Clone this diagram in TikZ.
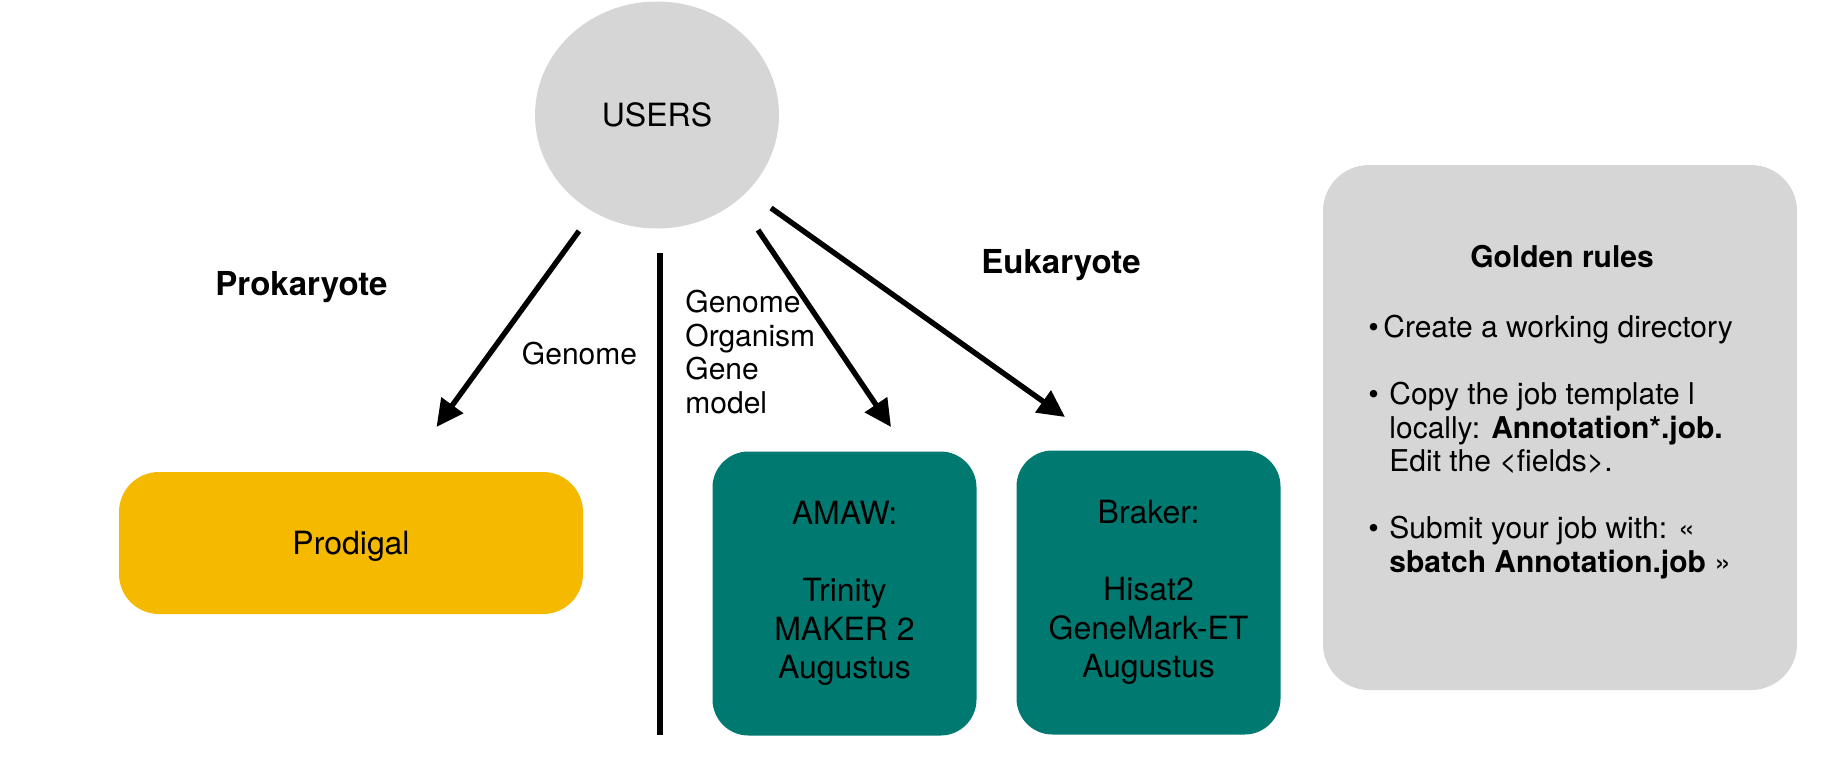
\documentclass[tikz,border=0pt]{standalone}
\usepackage{fontspec}
\setmainfont{TeX Gyre Heros}
\usepackage{tikz}
\usetikzlibrary{arrows.meta,shapes}
\usetikzlibrary{positioning}
\definecolor{usergray}{RGB}{214,214,214}
\definecolor{prokyellow}{RGB}{245,185,0}
\definecolor{eukteal}{RGB}{0,122,113}
\tikzset{
    usernode/.style={ellipse, fill=usergray, minimum width=122pt, minimum height=113.5pt,
        font=\fontsize{16}{19.25}\selectfont},
    prokbox/.style={rectangle, rounded corners=20pt, fill=prokyellow, text depth=0pt,
        minimum width=232pt, minimum height=71pt, font=\fontsize{16}{19.25}\selectfont},
    eukbox/.style={rectangle, rounded corners=18pt, fill=eukteal, align=center,
        minimum width=132pt, minimum height=142pt, font=\fontsize{16}{19.25}\selectfont},
    rulesbox/.style={rectangle, rounded corners=23pt, fill=usergray,
        minimum width=237pt, minimum height=262.5pt},
    kingdom/.style={inner sep=0pt, anchor=base, font=\fontsize{16.5}{19.8}\selectfont\bfseries},
    smalltext/.style={inner sep=0pt, font=\fontsize{15}{16.75}\selectfont},
    flow/.style={draw=black, line width=2.7pt, -{Triangle[length=13.5pt,width=13pt]}},
    divider/.style={draw=black, line width=2.65pt},
}

\begin{document}
\begin{tikzpicture}[x=0.5pt, y=-0.5pt]
\useasboundingbox (0,0) rectangle (1845,760);
	% boxes
	\node[usernode] (users) at (657,115) {USERS};
	\node[prokbox] (prodigal) at (351,543) {Prodigal};
	\node[eukbox] (amaw) at (844.5,593.5) {AMAW:\\[19.25pt]Trinity\\MAKER 2\\Augustus};
	\node[eukbox] (braker) at (1148.5,592.5) {Braker:\\[19.25pt]Hisat2\\GeneMark-ET\\Augustus};
	\node[rulesbox] (rules) at (1560,427.5) {};
	% labels
	\node[kingdom] (prok) at (301.5,295) {Prokaryote};
	\node[kingdom] (euk) at (1061,273.3) {Eukaryote};
	\node[smalltext, anchor=base] (genome) at (579.5,364) {Genome};
	\node[smalltext, anchor=north west, align=left] (inputs) at (685,290) {Genome\\Organism\\Gene\\model};
	\node[smalltext, anchor=base, font=\fontsize{15}{16.75}\selectfont\bfseries] (rulestitle) at (1562,267.6) {Golden rules};
	\node[smalltext, anchor=north west, align=left] (rulestext) at (1368,315) {%
\makebox[7.5pt][l]{\textbullet}Create a working directory\\[16.75pt]%
\makebox[10.5pt][l]{\textbullet}Copy the job template l\\%
\hspace*{10.5pt}locally: \textbf{Annotation*.job.}\\%
\hspace*{10.5pt}Edit the <fields>.\\[16.75pt]%
\makebox[10.5pt][l]{\textbullet}Submit your job with: «\\%
\hspace*{10.5pt}\textbf{sbatch Annotation.job} »};
	% arrows
	\coordinate (p1) at (579,231);
	\coordinate (p2) at (436.5,427);
	\coordinate (e1) at (758,230);
	\coordinate (e2) at (891,427);
	\coordinate (b1) at (771,208);
	\coordinate (b2) at (1065,417);
	\draw[flow] (p1) -- (p2);
	\draw[flow] (e1) -- (e2);
	\draw[flow] (b1) -- (b2);
	\coordinate (divtop) at (660,253);
	\coordinate (divbot) at (660,735);
	\draw[divider] (divtop) -- (divbot);
\end{tikzpicture}
\end{document}
